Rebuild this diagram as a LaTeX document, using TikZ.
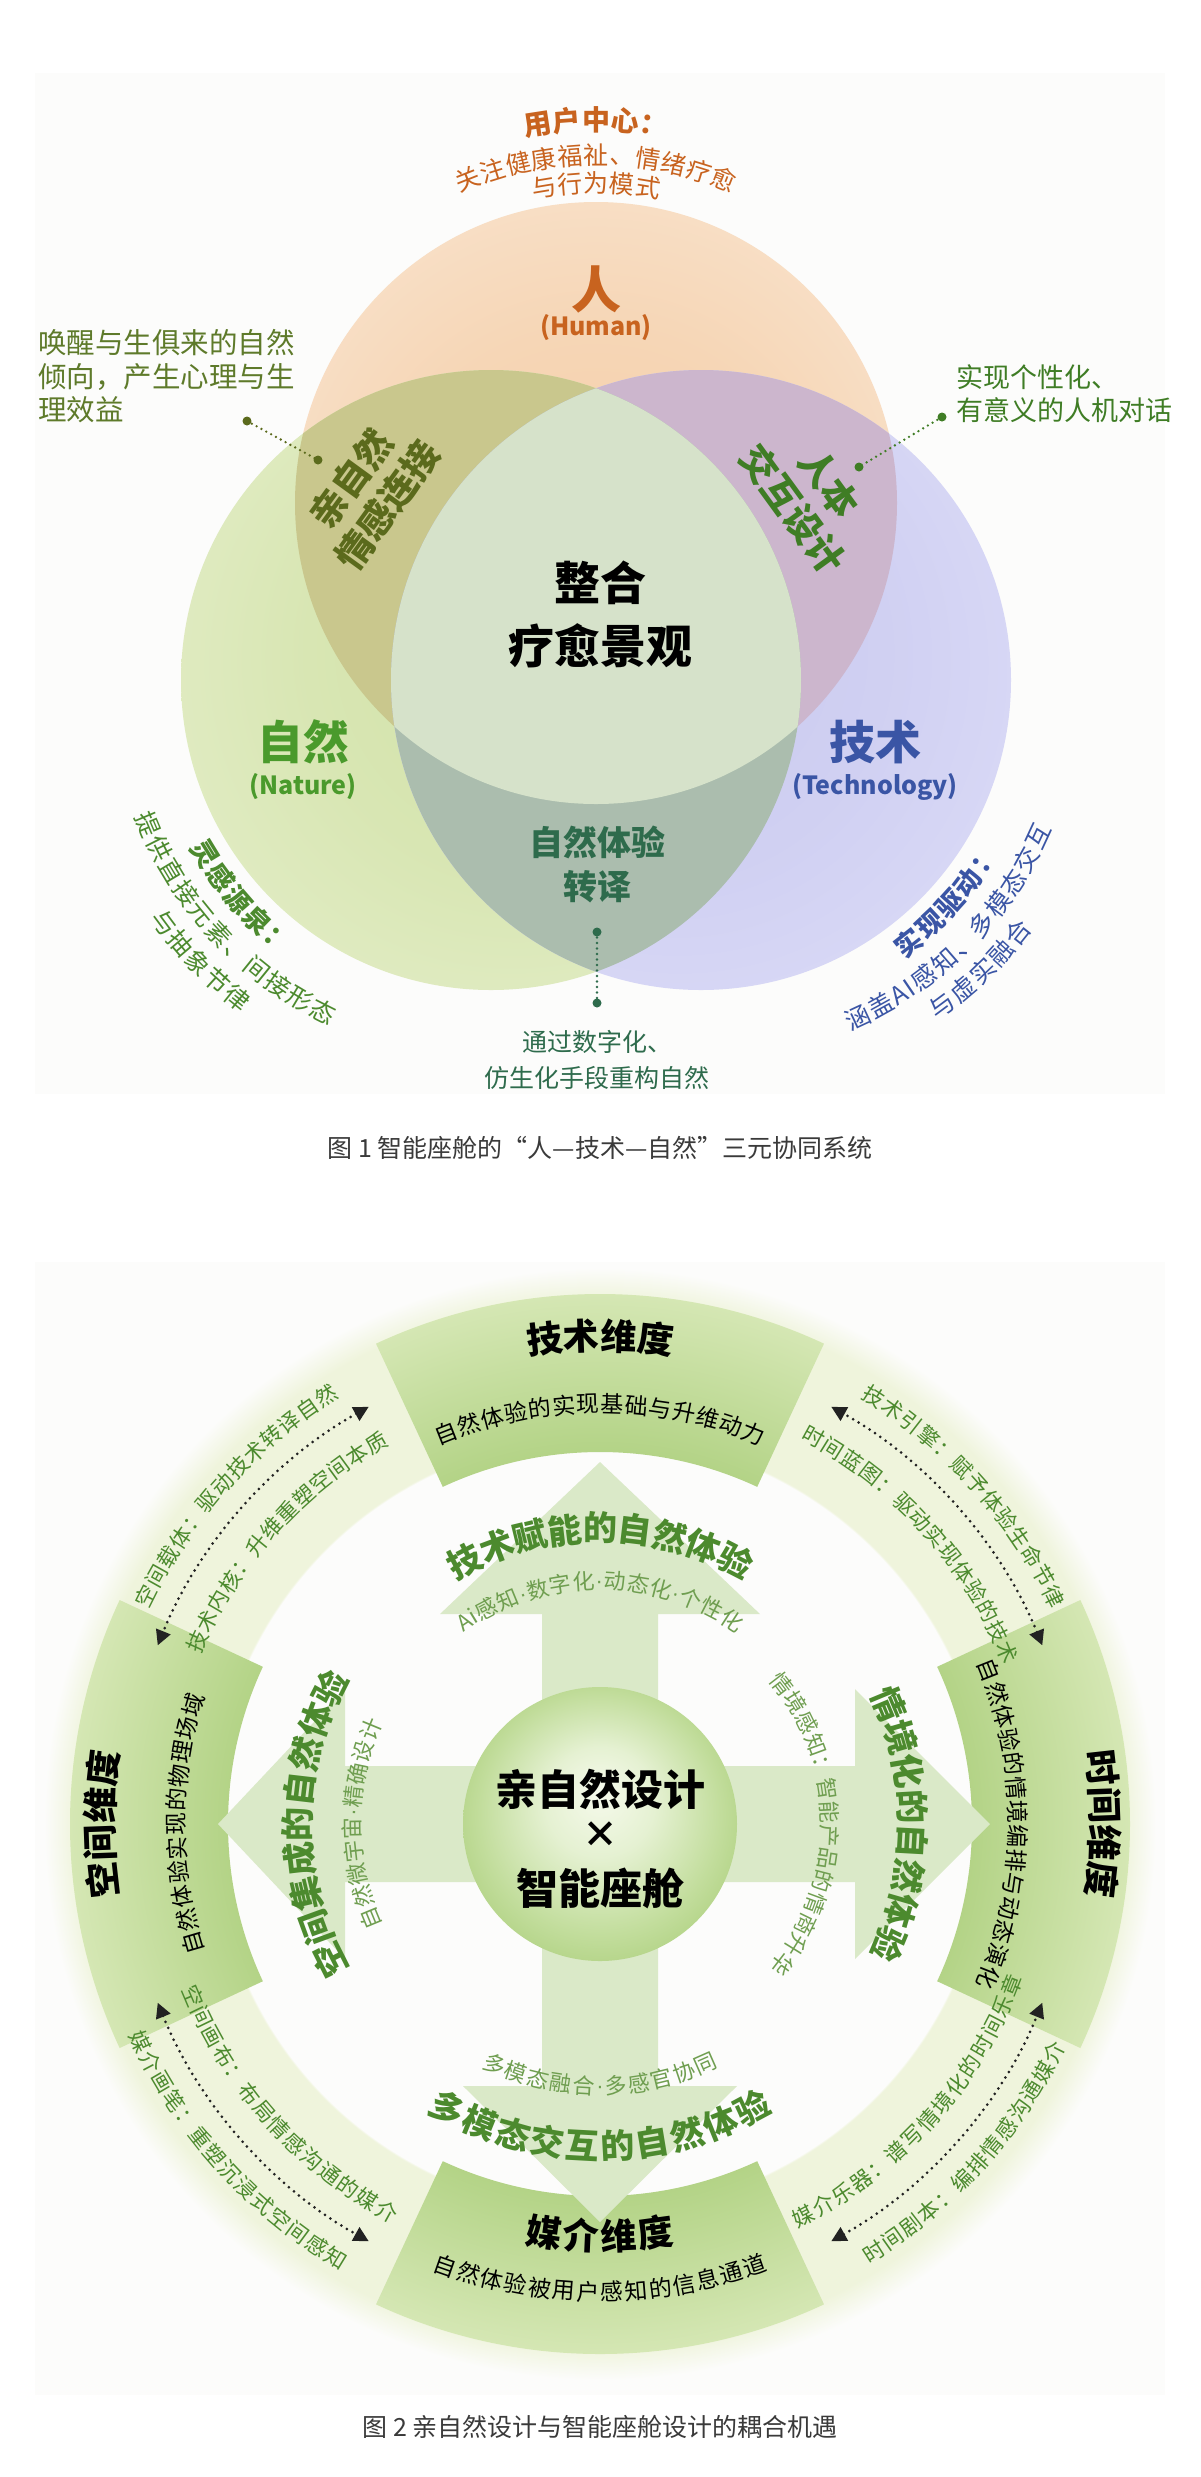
\documentclass[tikz,border=0pt]{standalone}
\usepackage{fontspec}
\setmainfont{Noto Sans CJK SC}
\newfontfamily\latinf{Liberation Sans}
\usetikzlibrary{arrows.meta}

\definecolor{tA}{HTML}{F4CCA4}
\definecolor{tB}{HTML}{F6D6B6}
\definecolor{tC}{HTML}{F9E4CF}
\definecolor{lA}{HTML}{D0E1A4}
\definecolor{lB}{HTML}{D8E6B3}
\definecolor{lC}{HTML}{E4EEC9}
\definecolor{rA}{HTML}{C8C8EE}
\definecolor{rB}{HTML}{D0D0F2}
\definecolor{rC}{HTML}{DCDCF7}
\definecolor{cTL}{HTML}{C9C78D}
\definecolor{cTR}{HTML}{CCB6CD}
\definecolor{cLR}{HTML}{ABBDAE}
\definecolor{cTLR}{HTML}{D6E2CA}
\definecolor{orangeT}{HTML}{C8631F}
\definecolor{oliveT}{HTML}{5E7A2A}
\definecolor{greenT}{HTML}{3F7D25}
\definecolor{natureT}{HTML}{4A9A2C}
\definecolor{blueT}{HTML}{3A55A5}
\definecolor{tealT}{HTML}{2E6B4C}
\definecolor{lensL}{HTML}{5B6A1C}
\definecolor{capT}{HTML}{3A3A3A}
\definecolor{panel}{HTML}{FCFCFB}
\definecolor{ringc}{HTML}{EFF4DC}
\definecolor{boxIn}{HTML}{B3D386}
\definecolor{boxOut}{HTML}{D5E7B4}
\definecolor{arrowc}{HTML}{DAE9C8}
\definecolor{gA}{HTML}{4C8A2E}
\definecolor{gB}{HTML}{6F9E50}
\definecolor{ballA}{HTML}{F6FAEC}
\definecolor{ballB}{HTML}{E5F1D2}
\definecolor{ballC}{HTML}{C2DD9C}
\definecolor{ballD}{HTML}{A9CD78}
\definecolor{dotc}{HTML}{222222}

\pgfdeclareradialshading{topshade}{\pgfpoint{0bp}{-8bp}}{color(0bp)=(tA); color(18bp)=(tB); color(33bp)=(tC)}
\pgfdeclareradialshading{leftshade}{\pgfpoint{7bp}{5bp}}{color(0bp)=(lA); color(18bp)=(lB); color(33bp)=(lC)}
\pgfdeclareradialshading{rightshade}{\pgfpoint{-7bp}{5bp}}{color(0bp)=(rA); color(18bp)=(rB); color(33bp)=(rC)}
% ring shading for a circle of radius 556
\pgfdeclareradialshading{ringglow}{\pgfpoint{0bp}{0bp}}{color(0bp)=(panel); color(17.4bp)=(panel); color(17.5bp)=(ringc); color(23.6bp)=(ringc); color(25bp)=(panel)}
\pgfdeclareradialshading{boxshade}{\pgfpoint{0bp}{0bp}}{color(0bp)=(boxIn); color(16.4bp)=(boxIn); color(23.5bp)=(boxOut); color(25bp)=(boxOut)}
\pgfdeclareradialshading{ballshade}{\pgfpoint{0bp}{6bp}}{color(0bp)=(ballA); color(10bp)=(ballB); color(22bp)=(ballC); color(31bp)=(ballD)}

\newbox\arcbox
\newdimen\arctot
\newdimen\arcpos
\newdimen\arcw
\def\arcsp{1.2pt}
\newcommand\md{{\latinf ·}}
\def\arcmeasurebox#1{%
  \pgfinterruptpicture\global\setbox\arcbox\hbox{\arcfnt #1}\endpgfinterruptpicture
  \global\arcw=\wd\arcbox
  \ifdim\arcw<1pt \global\arcw=\arcem pt\fi}
% #1 series, #2 size, #3 colour, #4 centre, #5 radius, #6 middle angle, #7 direction (1 ccw, -1 cw), #8 text
\newcommand\arctext[8]{%
  \def\arcfnt{#1\fontsize{#2}{#2}\selectfont}\def\arcem{#2}%
  \def\arccol{#3}\def\arccen{#4}\def\arcr{#5}\def\arcmid{#6}\def\arcdir{#7}%
  \global\arctot=0pt
  \arcmeasure#8\relax
  \global\advance\arctot by -\arcsp
  \global\arcpos=0pt
  \arcplace#8\relax}
\def\arcmeasure#1{\ifx#1\relax\else
  \arcmeasurebox{#1}%
  \global\advance\arctot by \arcw
  \global\advance\arctot by \arcsp
  \expandafter\arcmeasure\fi}
\def\arcplace#1{\ifx#1\relax\else
  \arcmeasurebox{#1}%
  \pgfmathsetmacro\arcang{\arcmid+(\arcdir)*(\the\arcpos+0.5*\the\arcw-0.5*\the\arctot)/\arcr*57.29578}%
  \pgfmathsetmacro\arcrot{\arcang+(\arcdir)*90}%
  \global\advance\arcpos by \arcw
  \global\advance\arcpos by \arcsp
  \node[inner sep=0pt,anchor=center,rotate=\arcrot,text=\arccol,font=\arcfnt] at ([shift={(\arcang:\arcr)}]\arccen) {\vphantom{国}#1};%
  \expandafter\arcplace\fi}

\tikzset{
  dotline/.style={dotc, line width=2.6pt, dash pattern=on 0pt off 5.5pt, line cap=round},
  dotarrow/.style={dotc, line width=3pt, dash pattern=on 0pt off 6.5pt, line cap=round,
     {Triangle[width=15pt,length=15pt]}-{Triangle[width=15pt,length=15pt]}},
  lbl/.style={inner sep=0pt, anchor=center}
}
\newcommand\fs[1]{\fontsize{#1}{#1}\selectfont}

\begin{document}
\begin{tikzpicture}[x=1pt,y=1pt]
\useasboundingbox (0,0) rectangle (1200,-2477);
\fill[white] (0,0) rectangle (1200,-2477);
\fill[panel] (35,-73) rectangle (1165,-1094);
\fill[panel] (35,-1262) rectangle (1165,-2395);

% ================= Figure 1 =================
\coordinate (T) at (596,-503);
\coordinate (L) at (491,-680);
\coordinate (R) at (701,-680);
\shade[shading=topshade] (T) circle[radius=301];
\shade[shading=leftshade] (L) circle[radius=310];
\shade[shading=rightshade] (R) circle[radius=310];
\begin{scope}
  \clip (T) circle[radius=301];
  \fill[cTL] (L) circle[radius=310];
  \fill[cTR] (R) circle[radius=310];
\end{scope}
\begin{scope}
  \clip (L) circle[radius=310];
  \fill[cLR] (R) circle[radius=310];
  \clip (T) circle[radius=301];
  \fill[cTLR] (R) circle[radius=310];
\end{scope}

\arctext{\bfseries}{28}{orangeT}{T}{383}{90}{-1}{用户中心：}
\arctext{\mdseries}{25}{orangeT}{T}{348}{90}{-1}{关注健康福祉、情绪疗愈}
\arctext{\mdseries}{25}{orangeT}{T}{320}{90}{-1}{与行为模式}

\node[lbl, text=orangeT, font=\bfseries\fs{50}] (ren) at (596,-289) {人};
\node[lbl, text=orangeT, font=\bfseries\fs{25}] (human) at (596,-328) {(Human)};

\node[lbl, anchor=west, text=oliveT, font=\fs{28.5}] (ln1) at (38,-343) {唤醒与生俱来的自然};
\node[lbl, anchor=west, text=oliveT, font=\fs{28.5}] (ln2) at (38,-377) {倾向，产生心理与生};
\node[lbl, anchor=west, text=oliveT, font=\fs{28.5}] (ln3) at (38,-410) {理效益};
\node[lbl, anchor=west, text=greenT, font=\fs{27}] (rn1) at (956,-377) {实现个性化、};
\node[lbl, anchor=west, text=greenT, font=\fs{27}] (rn2) at (956,-410) {有意义的人机对话};

\coordinate (dl1) at (247,-421);
\coordinate (dl2) at (318,-460);
\draw[dotline, draw=lensL] (dl1) -- (dl2);
\fill[lensL] (dl1) circle[radius=4.5] (dl2) circle[radius=4.5];
\coordinate (dr1) at (942,-417);
\coordinate (dr2) at (859,-467);
\draw[dotline, draw=greenT] (dr1) -- (dr2);
\fill[greenT] (dr1) circle[radius=4.5] (dr2) circle[radius=4.5];

\node[lbl, rotate=54, align=center, text=lensL, font=\bfseries\fontsize{37}{45}\selectfont] (lensTL) at (369,-492) {亲自然\\情感连接};
\node[lbl, rotate=-54, align=center, text=greenT, font=\bfseries\fontsize{37}{45}\selectfont] (lensTR) at (811,-496) {人本\\交互设计};

\node[lbl, font=\bfseries\fs{46}] (zh1) at (600,-583) {整合};
\node[lbl, font=\bfseries\fs{46}] (zh2) at (600,-646) {疗愈景观};

\node[lbl, text=natureT, font=\bfseries\fs{46}] (nat) at (303,-742) {自然};
\node[lbl, text=natureT, font=\bfseries\fs{25}] (nat2) at (303,-787) {(Nature)};
\node[lbl, text=blueT, font=\bfseries\fs{46}] (tec) at (875,-742) {技术};
\node[lbl, text=blueT, font=\bfseries\fs{25}] (tec2) at (875,-787) {(Technology)};

\node[lbl, text=tealT, font=\bfseries\fs{34}] (zr1) at (597,-842) {自然体验};
\node[lbl, text=tealT, font=\bfseries\fs{34}] (zr2) at (597,-887) {转译};
\coordinate (dt1) at (597,-932);
\coordinate (dt2) at (597,-1003);
\draw[dotline, draw=tealT] (dt1) -- (dt2);
\fill[tealT] (dt1) circle[radius=4.5] (dt2) circle[radius=4.5];
\node[lbl, text=tealT, font=\fs{25}] (tz1) at (597,-1042) {通过数字化、};
\node[lbl, text=tealT, font=\fs{25}] (tz2) at (597,-1078) {仿生化手段重构自然};

\arctext{\bfseries}{27}{gA}{L}{335}{221}{1}{灵感源泉：}
\arctext{\mdseries}{25}{gA}{L}{372}{223}{1}{提供直接元素、间接形态}
\arctext{\mdseries}{25}{gA}{L}{407}{224}{1}{与抽象节律}
\arctext{\bfseries}{27}{blueT}{R}{335}{318}{1}{实现驱动：}
\arctext{\mdseries}{25}{blueT}{R}{372}{315}{1}{涵盖AI感知、多模态交互}
\arctext{\mdseries}{25}{blueT}{R}{405}{314}{1}{与虚实融合}

\node[lbl, text=capT, font=\fs{25}] (cap1) at (600,-1148) {图 1 智能座舱的“人—技术—自然”三元协同系统};

% ================= Figure 2 =================
\coordinate (C) at (600,-1824);
\shade[shading=ringglow] (C) circle[radius=556];
\foreach \a in {90,0,270,180}{
  \begin{scope}
    \clip ([shift={(\a-25:372)}]C) arc[start angle=\a-25, end angle=\a+25, radius=372]
      -- ([shift={(\a+25:530)}]C) arc[start angle=\a+25, end angle=\a-25, radius=530] -- cycle;
    \shade[shading=boxshade] (C) circle[radius=565];
  \end{scope}
}

% dotted double arrows in the ring
\draw[dotarrow] ([shift={(119:477)}]C) arc[start angle=119, end angle=158, radius=477];
\draw[dotarrow] ([shift={(22:477)}]C) arc[start angle=22, end angle=61, radius=477];
\draw[dotarrow] ([shift={(299:477)}]C) arc[start angle=299, end angle=338, radius=477];
\draw[dotarrow] ([shift={(202:477)}]C) arc[start angle=202, end angle=241, radius=477];

\arctext{\mdseries}{21.5}{gA}{C}{508}{138}{-1}{空间载体：驱动技术转译自然}
\arctext{\mdseries}{21.5}{gA}{C}{442}{138}{-1}{技术内核：升维重塑空间本质}
\arctext{\mdseries}{21.5}{gA}{C}{508}{42}{-1}{技术引擎：赋予体验生命节律}
\arctext{\mdseries}{21.5}{gA}{C}{442}{42}{-1}{时间蓝图：驱动实现体验的技术}
\arctext{\mdseries}{21.5}{gA}{C}{442}{318}{1}{媒介乐器：谱写情境化的时间乐章}
\arctext{\mdseries}{21.5}{gA}{C}{508}{318}{1}{时间剧本：编排情感沟通媒介}
\arctext{\mdseries}{21.5}{gA}{C}{442}{222}{1}{空间画布：布局情感沟通的媒介}
\arctext{\mdseries}{21.5}{gA}{C}{508}{222}{1}{媒介画笔：重塑沉浸式空间感知}

% box texts
\arctext{\bfseries}{36}{black}{C}{488}{90}{-1}{技术维度}
\arctext{\mdseries}{23}{black}{C}{420}{90}{-1}{自然体验的实现基础与升维动力}
\arctext{\bfseries}{36}{black}{C}{505}{0}{-1}{时间维度}
\arctext{\mdseries}{23}{black}{C}{418}{0}{-1}{自然体验的情境编排与动态演化}
\arctext{\bfseries}{36}{black}{C}{412}{270}{1}{媒介维度}
\arctext{\mdseries}{23}{black}{C}{468}{270}{1}{自然体验被用户感知的信息通道}
\arctext{\bfseries}{36}{black}{C}{500}{180}{-1}{空间维度}
\arctext{\mdseries}{23}{black}{C}{424}{180}{-1}{自然体验实现的物理场域}

% cross arrows
\foreach \ang/\apex/\base/\hw in {90/362/210/160, 0/390/255/135, 270/398/262/137, 180/382/255/135}{
  \begin{scope}[shift={(600,-1824)}, rotate=\ang-90]
    \fill[arrowc] (-58,0) -- (-58,\base) -- (-\hw,\base) -- (0,\apex) -- (\hw,\base) -- (58,\base) -- (58,0) -- cycle;
  \end{scope}
}

\shade[shading=ballshade] (C) circle[radius=137];
\node[lbl, font=\bfseries\fs{42}] (c1) at (600,-1789) {亲自然设计};
\node[lbl, font=\bfseries\fs{36}] (c2) at (600,-1835) {×};
\node[lbl, font=\bfseries\fs{42}] (c3) at (600,-1888) {智能座舱};

\arctext{\bfseries}{34}{gA}{C}{296}{90}{-1}{技术赋能的自然体验}
\arctext{\mdseries}{22}{gB}{C}{243}{90}{-1}{Ai感知\md 数字化\md 动态化\md 个性化}
\arctext{\bfseries}{34}{gA}{C}{313}{0}{-1}{情境化的自然体验}
\arctext{\mdseries}{22}{gB}{C}{230}{0}{-1}{情境感知：智能产品的情商升华}
\arctext{\mdseries}{22}{gB}{C}{262}{270}{1}{多模态融合\md 多感官协同}
\arctext{\bfseries}{34}{gA}{C}{322}{270}{1}{多模态交互的自然体验}
\arctext{\bfseries}{34}{gA}{C}{302}{180}{-1}{空间集成的自然体验}
\arctext{\mdseries}{22}{gB}{C}{248}{180}{-1}{自然微宇宙\md 精确设计}

\node[lbl, text=capT, font=\fs{25}] (cap2) at (600,-2427) {图 2 亲自然设计与智能座舱设计的耦合机遇};
\end{tikzpicture}
\end{document}
